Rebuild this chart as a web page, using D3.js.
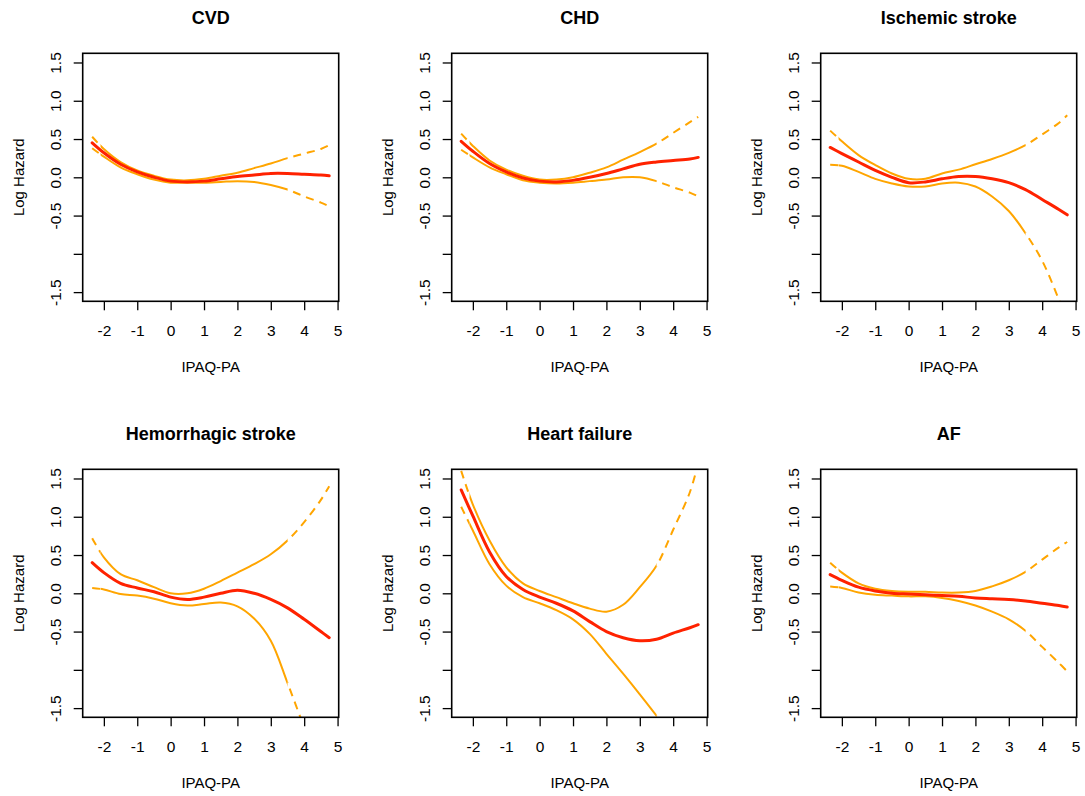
<!DOCTYPE html>
<html><head><meta charset="utf-8">
<script src="https://cdn.jsdelivr.net/npm/d3@7"></script>
<style>
body{margin:0;background:#fff}
svg{display:block}
text{font-family:"Liberation Sans",Arial,Helvetica,sans-serif;fill:#000}
</style>
</head><body>
<svg id="c" width="1085" height="796"></svg>
<script>
// ---------------- data ----------------
const titles = ["CVD", "CHD", "Ischemic stroke", "Hemorrhagic stroke", "Heart failure", "AF"];
const xGrid = [-2.35, -2, -1.5, -1, -0.5, 0, 0.5, 1, 1.5, 2, 2.5, 3, 3.5, 4, 4.5, 4.75];

const cvdEst   = [0.45, 0.32, 0.17, 0.07, 0.00, -0.05, -0.06, -0.05, -0.02, 0.01, 0.03, 0.05, 0.05, 0.04, 0.03, 0.02];
const cvdUpper = [0.53, 0.37, 0.20, 0.09, 0.02, -0.03, -0.04, -0.02, 0.02, 0.06, 0.12, 0.18, 0.25, 0.31, 0.37, 0.42];
const cvdLower = [0.38, 0.27, 0.13, 0.04, -0.03, -0.07, -0.07, -0.07, -0.06, -0.05, -0.06, -0.10, -0.16, -0.25, -0.33, -0.38];

const chdEst   = [0.47, 0.34, 0.18, 0.07, -0.01, -0.05, -0.06, -0.04, 0.00, 0.05, 0.11, 0.17, 0.20, 0.22, 0.24, 0.26];
const chdUpper = [0.57, 0.41, 0.22, 0.10, 0.02, -0.03, -0.03, 0.00, 0.06, 0.13, 0.23, 0.33, 0.44, 0.58, 0.72, 0.79];
const chdLower = [0.36, 0.26, 0.13, 0.04, -0.04, -0.07, -0.08, -0.07, -0.05, -0.03, 0.00, 0.00, -0.05, -0.13, -0.20, -0.25];

const ischEst   = [0.39, 0.31, 0.20, 0.09, 0.00, -0.07, -0.06, -0.02, 0.01, 0.01, -0.02, -0.07, -0.16, -0.29, -0.42, -0.49];
const ischUpper = [0.61, 0.47, 0.29, 0.16, 0.05, -0.02, -0.02, 0.05, 0.10, 0.17, 0.24, 0.32, 0.42, 0.56, 0.71, 0.81];
const ischLower = [0.165, 0.15, 0.07, -0.02, -0.08, -0.12, -0.12, -0.08, -0.07, -0.12, -0.25, -0.44, -0.73, -1.09, -1.60, -1.90];

const hemEst   = [0.40, 0.27, 0.13, 0.07, 0.02, -0.05, -0.08, -0.05, 0.00, 0.04, 0.00, -0.08, -0.19, -0.34, -0.50, -0.58];
const hemUpper = [0.72, 0.47, 0.25, 0.17, 0.08, 0.00, 0.00, 0.06, 0.16, 0.27, 0.38, 0.51, 0.69, 0.93, 1.22, 1.40];
const hemLower = [0.07, 0.05, -0.01, -0.03, -0.07, -0.13, -0.16, -0.14, -0.12, -0.17, -0.33, -0.62, -1.17, -1.75, -2.30, -2.60];

const hfEst   = [1.35, 1.01, 0.54, 0.22, 0.05, -0.05, -0.13, -0.23, -0.37, -0.50, -0.58, -0.62, -0.60, -0.52, -0.45, -0.41];
const hfUpper = [1.60, 1.16, 0.69, 0.34, 0.13, 0.03, -0.05, -0.13, -0.20, -0.24, -0.15, 0.08, 0.36, 0.83, 1.32, 1.70];
const hfLower = [1.13, 0.82, 0.38, 0.10, -0.05, -0.13, -0.22, -0.34, -0.53, -0.79, -1.05, -1.32, -1.60, -1.90, -2.20, -2.35];

const afEst   = [0.245, 0.17, 0.08, 0.03, 0.00, -0.01, -0.02, -0.03, -0.04, -0.06, -0.07, -0.08, -0.10, -0.13, -0.16, -0.18];
const afUpper = [0.40, 0.27, 0.13, 0.06, 0.03, 0.02, 0.02, 0.01, 0.01, 0.03, 0.09, 0.17, 0.28, 0.44, 0.60, 0.67];
const afLower = [0.09, 0.07, 0.01, -0.02, -0.03, -0.04, -0.04, -0.06, -0.10, -0.16, -0.24, -0.34, -0.49, -0.70, -0.91, -1.02];

const xTicks = [-2, -1, 0, 1, 2, 3, 4, 5];
const yTicks = [-1.5, -1, -0.5, 0, 0.5, 1, 1.5];
const yTickLabels = ["-1.5", "", "-0.5", "0.0", "0.5", "1.0", "1.5"];
const xLabel = "IPAQ-PA";
const yLabel = "Log Hazard";
const dataRange = [-2.35, 4.75];
const yLim = [-1.5, 1.5];
const cutL = -2.1, cutR = 3.5; // dashed outside this interval

const panels = [
  {title: titles[0], est: cvdEst,  lo: cvdLower,  hi: cvdUpper},
  {title: titles[1], est: chdEst,  lo: chdLower,  hi: chdUpper},
  {title: titles[2], est: ischEst, lo: ischLower, hi: ischUpper},
  {title: titles[3], est: hemEst,  lo: hemLower,  hi: hemUpper},
  {title: titles[4], est: hfEst,   lo: hfLower,   hi: hfUpper},
  {title: titles[5], est: afEst,   lo: afLower,   hi: afUpper}
];

// ---------------- layout ----------------
const W = 256, H = 248;
const lefts = [82.7, 451.7, 820.7];
const tops = [53.3, 469.3];
const RED = "#ff2200", ORANGE = "#ffa500";

const xpad = 0.04 * (dataRange[1] - dataRange[0]);
const ypad = 0.04 * (yLim[1] - yLim[0]);
const x = d3.scaleLinear().domain([dataRange[0] - xpad, dataRange[1] + xpad]).range([0, W]);
const y = d3.scaleLinear().domain([yLim[0] - ypad, yLim[1] + ypad]).range([H, 0]);

const line = d3.line()
  .x((d, j) => x(xGrid[j]))
  .y(d => y(d))
  .curve(d3.curveCatmullRom.alpha(0.5));

const svg = d3.select("#c");
const defs = svg.append("defs");

function lengthAtX(pathNode, targetX) {
  const total = pathNode.getTotalLength();
  let lo = 0, hi = total;
  for (let k = 0; k < 40; k++) {
    const mid = (lo + hi) / 2;
    if (pathNode.getPointAtLength(mid).x < targetX) lo = mid; else hi = mid;
  }
  return (lo + hi) / 2;
}

panels.forEach((p, i) => {
  const col = i % 3, row = Math.floor(i / 3);
  const g = svg.append("g").attr("transform", `translate(${lefts[col]},${tops[row]})`);

  const xl = x(cutL), xr = x(cutR);
  const clips = {
    A: [0, W], L: [0, xl], M: [xl, xr], R: [xr, W]
  };
  Object.entries(clips).forEach(([k, [a, b]]) => {
    defs.append("clipPath").attr("id", `clip${k}${i}`)
      .append("rect").attr("x", a).attr("y", 0).attr("width", b - a).attr("height", H);
  });

  // confidence bands
  [p.lo, p.hi].forEach(vals => {
    const d = line(vals);
    g.append("path").attr("d", d).attr("clip-path", `url(#clipL${i})`)
      .attr("fill", "none").attr("stroke", ORANGE).attr("stroke-width", 2)
      .attr("stroke-dasharray", "8,6");
    g.append("path").attr("d", d).attr("clip-path", `url(#clipM${i})`)
      .attr("fill", "none").attr("stroke", ORANGE).attr("stroke-width", 2);
    const pr = g.append("path").attr("d", d).attr("clip-path", `url(#clipR${i})`)
      .attr("fill", "none").attr("stroke", ORANGE).attr("stroke-width", 2)
      .attr("stroke-dasharray", "8,6");
    const Lc = lengthAtX(pr.node(), xr);
    pr.attr("stroke-dashoffset", 8 - Lc);
  });

  // estimate
  g.append("path").attr("d", line(p.est)).attr("clip-path", `url(#clipA${i})`)
    .attr("fill", "none").attr("stroke", RED).attr("stroke-width", 3)
    .attr("stroke-linecap", "round");

  // axes
  const xa = g.append("g").attr("transform", `translate(0,${H})`)
    .call(d3.axisBottom(x).tickValues(xTicks).tickSize(9).tickPadding(14.5)
      .tickFormat(d => String(d)));
  xa.select(".domain").remove();
  xa.selectAll("line").attr("stroke", "#000").attr("stroke-width", 1.3);
  xa.selectAll("text").attr("font-size", 15.5).attr("fill", "#000")
    .style("font-family", '"Liberation Sans",Arial,sans-serif');

  const ya = g.append("g")
    .call(d3.axisLeft(y).tickValues(yTicks).tickSize(9)
      .tickFormat((d, j) => yTickLabels[j]));
  ya.select(".domain").remove();
  ya.selectAll("line").attr("stroke", "#000").attr("stroke-width", 1.3);
  ya.selectAll("text").attr("font-size", 15.5).attr("fill", "#000")
    .style("font-family", '"Liberation Sans",Arial,sans-serif')
    .attr("transform", "rotate(-90)")
    .attr("x", 0).attr("y", -21.5).attr("dy", null)
    .attr("text-anchor", "middle");

  // box
  g.append("rect").attr("x", 0).attr("y", 0).attr("width", W).attr("height", H)
    .attr("fill", "none").attr("stroke", "#000").attr("stroke-width", 1.6);

  // labels
  g.append("text").attr("x", W / 2).attr("y", -29.5).attr("text-anchor", "middle")
    .attr("font-size", 18).attr("font-weight", "bold").text(p.title);
  g.append("text").attr("x", W / 2).attr("y", H + 71).attr("text-anchor", "middle")
    .attr("font-size", 15).text(xLabel);
  g.append("text").attr("transform", `translate(-64,${H / 2}) rotate(-90)`)
    .attr("y", 5.3).attr("text-anchor", "middle")
    .attr("font-size", 15).text(yLabel);
});
</script>
</body></html>
